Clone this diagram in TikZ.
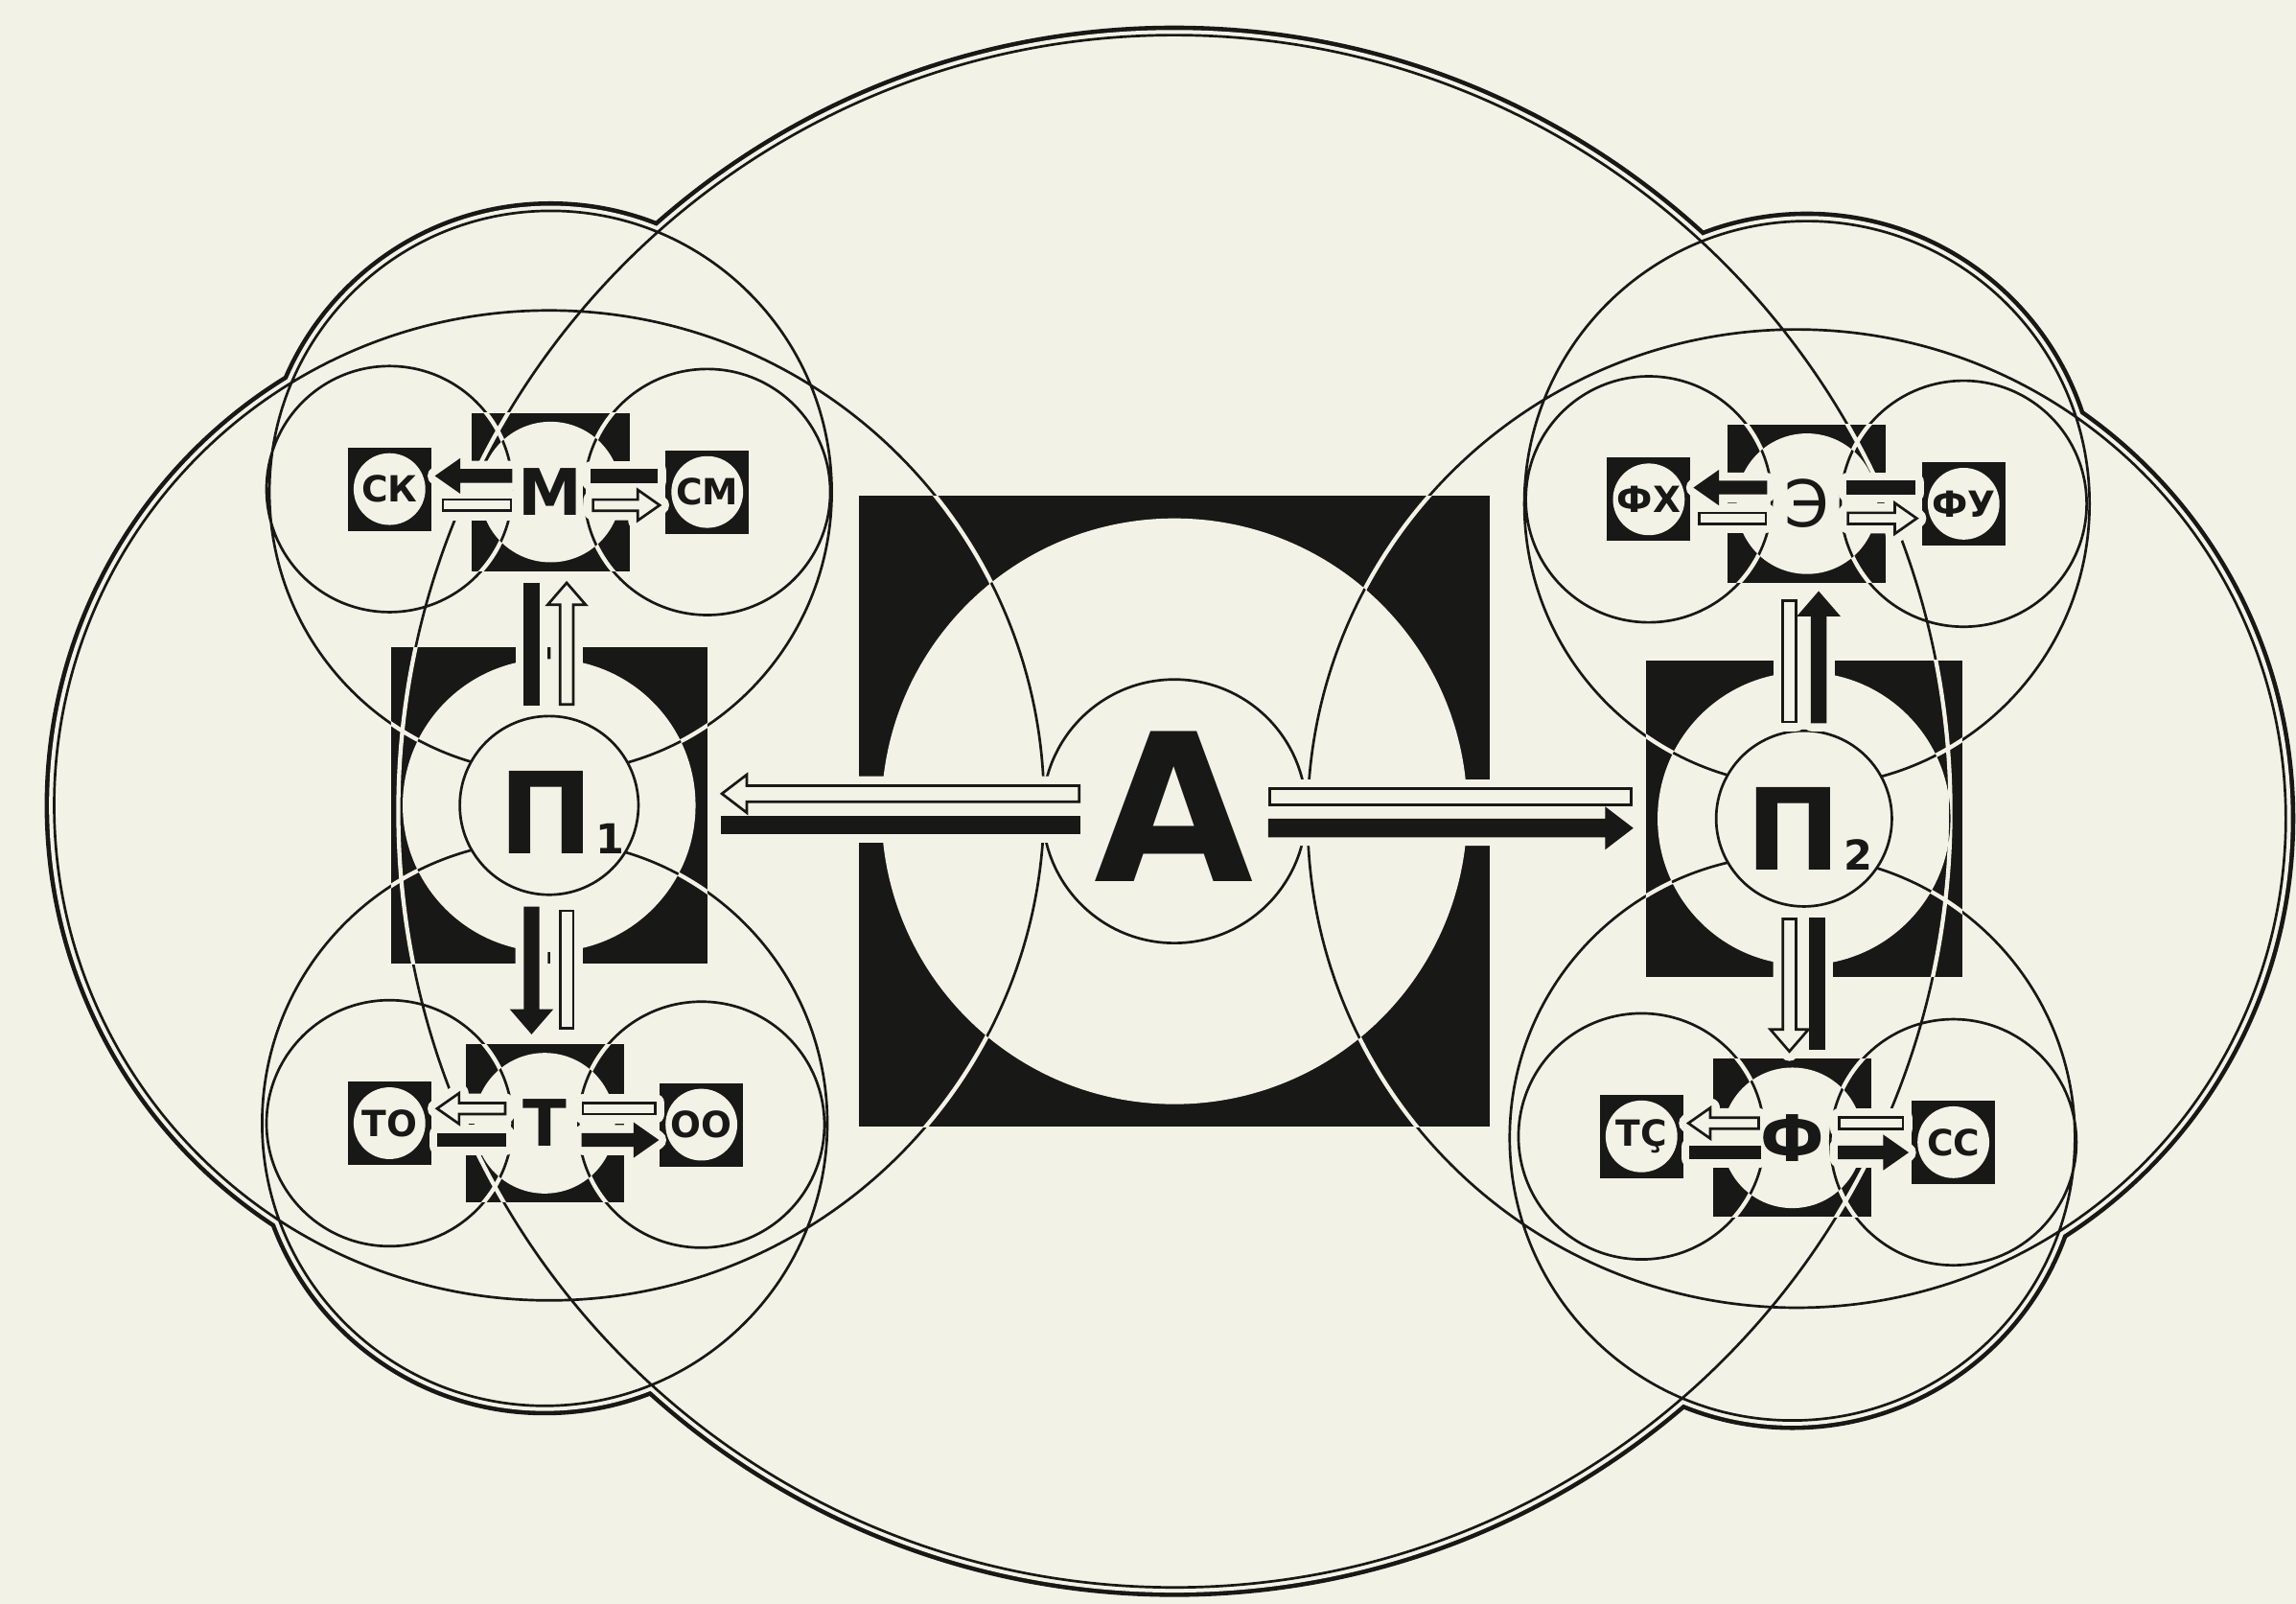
\documentclass[tikz,border=0pt]{standalone}
\usepackage{fontspec}
\setmainfont{DejaVu Sans}
\usetikzlibrary{calc}

\definecolor{paper}{RGB}{243,242,230}
\definecolor{ink}{RGB}{24,24,22}

% spheres: centre/radius, and the small side spheres
\newcommand{\spherelist}{A/5.30, P1/3.38, P2c/3.34, M/1.92, T/1.93, E/1.93, F/1.93}
\newcommand{\sidelist}{SK, SM, TO, OO, FX, FU, TS, SS}

% black square with a light disc; orbits run white over black, black over light
\newcommand{\sphereunit}[3]{%
  \node[unitbox=#2] (#1box) at (#1) {};
  \begin{scope}
    \clip (#1box.south west) rectangle (#1box.north east);
    \draw[cutline] \foreach \ctr/\rad in \spherelist {(\ctr) circle[radius=\rad]}
      \foreach \ctr in \sidelist {(\ctr) circle[radius=0.84]};
  \end{scope}
  \fill[paper] (#1) circle[radius=#3];
  \begin{scope}
    \clip (#1) circle[radius=#3];
    \draw[orbit] \foreach \ctr/\rad in \spherelist {(\ctr) circle[radius=\rad]}
      \foreach \ctr in \sidelist {(\ctr) circle[radius=0.84]};
  \end{scope}}

% flows: bar without head, bar with head
\newcommand{\flowsize}[3]{\def\barhw{#1}\def\tiphw{#2}\def\tiplen{#3}}
\newcommand{\flowbar}[3]{%
  \coordinate (fs) at (#2);
  \coordinate (fe) at (#3);
  \filldraw[#1, flowpass] ($(fs)!\barhw!90:(fe)$) -- ($(fe)!\barhw!-90:(fs)$)
    -- ($(fe)!\barhw!90:(fs)$) -- ($(fs)!\barhw!-90:(fe)$) -- cycle;}
\newcommand{\flowarrow}[3]{%
  \coordinate (fs) at (#2);
  \coordinate (fe) at (#3);
  \coordinate (fh) at ($(fe)!\tiplen!(fs)$);
  \filldraw[#1, flowpass] ($(fs)!\barhw!90:(fe)$) -- ($(fh)!\barhw!90:(fe)$)
    -- ($(fh)!\tiphw!90:(fe)$) -- (fe) -- ($(fh)!\tiphw!-90:(fe)$)
    -- ($(fh)!\barhw!-90:(fe)$) -- ($(fs)!\barhw!-90:(fe)$) -- cycle;}

% all the flows of the scheme
\newcommand{\allflows}{%
  % A -- P1, A -- P2
  \flowsize{0.055cm}{0.13cm}{0.17cm}
  \flowarrow{whiteflow}{$(A)+(-0.65,0.12)$}{[xshift=1mm]P1box.east |- fs}
  \flowbar{blackflow}{$(A)+(-0.65,-0.095)$}{[xshift=1mm]P1box.east |- fs}
  \flowbar{whiteflow}{$(A)+(0.65,0.10)$}{[xshift=-1mm]P2box.west |- fs}
  \flowarrow{blackflow}{$(A)+(0.65,-0.115)$}{[xshift=-1mm]P2box.west |- fs}
  % P1 -- M, T and P2 -- E, F
  \flowsize{0.045cm}{0.13cm}{0.15cm}
  \flowbar{blackflow}{$(P1)+(-0.12,0.69)$}{[yshift=-0.9mm]Mbox.south -| fs}
  \flowarrow{whiteflow}{$(P1)+(0.12,0.69)$}{[yshift=-0.8mm]Mbox.south -| fs}
  \flowarrow{blackflow}{$(P1)+(-0.12,-0.70)$}{[yshift=0.8mm]Tbox.north -| fs}
  \flowbar{whiteflow}{$(P1)+(0.12,-0.72)$}{[yshift=1.1mm]Tbox.north -| fs}
  \flowbar{whiteflow}{$(P2)+(-0.10,0.66)$}{[yshift=-1.2mm]Ebox.south -| fs}
  \flowarrow{blackflow}{$(P2)+(0.10,0.66)$}{[yshift=-0.7mm]Ebox.south -| fs}
  \flowarrow{whiteflow}{$(P2)+(-0.10,-0.685)$}{[yshift=0.5mm]Fbox.north -| fs}
  \flowbar{blackflow}{$(P2)+(0.09,-0.685)$}{[yshift=0.7mm]Fbox.north -| fs}
  % side flows
  \flowsize{0.038cm}{0.105cm}{0.15cm}
  \flowarrow{blackflow}{$(M)+(-0.27,0.11)$}{[xshift=0.4mm]SKbox.east |- fs}
  \flowbar{whiteflow}{$(M)+(-0.27,-0.09)$}{[xshift=0.8mm]SKbox.east |- fs}
  \flowbar{blackflow}{$(M)+(0.28,0.11)$}{[xshift=-0.6mm]SMbox.west |- fs}
  \flowarrow{whiteflow}{$(M)+(0.29,-0.09)$}{[xshift=-0.4mm]SMbox.west |- fs}
  \flowarrow{whiteflow}{$(T)+(-0.27,0.10)$}{[xshift=0.4mm]TObox.east |- fs}
  \flowbar{blackflow}{$(T)+(-0.27,-0.115)$}{[xshift=0.5mm]TObox.east |- fs}
  \flowbar{whiteflow}{$(T)+(0.26,0.10)$}{[xshift=-0.3mm]OObox.west |- fs}
  \flowarrow{blackflow}{$(T)+(0.26,-0.115)$}{[xshift=-0.2mm]OObox.west |- fs}
  \flowarrow{blackflow}{$(E)+(-0.28,0.11)$}{[xshift=0.35mm]FXbox.east |- fs}
  \flowbar{whiteflow}{$(E)+(-0.28,-0.10)$}{[xshift=0.6mm]FXbox.east |- fs}
  \flowbar{blackflow}{$(E)+(0.28,0.11)$}{[xshift=-0.5mm]FUbox.west |- fs}
  \flowarrow{whiteflow}{$(E)+(0.28,-0.10)$}{[xshift=-0.35mm]FUbox.west |- fs}
  \flowarrow{whiteflow}{$(F)+(-0.23,0.10)$}{[xshift=0.35mm]TSbox.east |- fs}
  \flowbar{blackflow}{$(F)+(-0.22,-0.10)$}{[xshift=0.5mm]TSbox.east |- fs}
  \flowbar{whiteflow}{$(F)+(0.32,0.10)$}{[xshift=-0.6mm]SSbox.west |- fs}
  \flowarrow{blackflow}{$(F)+(0.32,-0.10)$}{[xshift=-0.35mm]SSbox.west |- fs}}

\begin{document}
\begin{tikzpicture}[
    orbit/.style={draw=ink, line width=0.5pt},
    cutline/.style={draw=paper, line width=0.8pt},
    unitbox/.style={rectangle, fill=ink, inner sep=0pt, outer sep=0pt, minimum size=#1},
    hub/.style={circle, draw=ink, line width=0.5pt, fill=paper, inner sep=0pt, minimum size=#1},
    halo/.style={draw=paper, fill=paper, line width=1.3mm, line join=round},
    whiteflow/.style={fill=paper, draw=ink, line width=0.5pt},
    blackflow/.style={fill=ink, draw=ink, line width=0.5pt},
    flowpass/.style={},
    biglabel/.style={text=ink, inner sep=0pt, font=\fontsize{40}{40}\selectfont\bfseries},
    plabel/.style={text=ink, inner sep=0pt, font=\fontsize{22}{22}\selectfont\bfseries},
    midlabel/.style={text=ink, inner sep=0pt, font=\fontsize{12.5}{12.5}\selectfont\bfseries},
    leaflabel/.style={text=ink, inner sep=0pt, font=\fontsize{7}{7}\selectfont\bfseries}]

  \useasboundingbox (0,0) rectangle (15.68,10.95);
  \fill[paper] (0,0) rectangle (15.68,10.95);

  \coordinate (A)   at (8.02,5.41);
  \coordinate (P1)  at (3.75,5.45);
  \coordinate (P2)  at (12.32,5.36);
  \coordinate (P2c) at (12.27,5.36);
  \coordinate (M)   at (3.76,7.59);
  \coordinate (SK)  at (2.66,7.61);
  \coordinate (SM)  at (4.83,7.59);
  \coordinate (T)   at (3.72,3.28);
  \coordinate (TO)  at (2.66,3.28);
  \coordinate (OO)  at (4.79,3.27);
  \coordinate (E)   at (12.34,7.51);
  \coordinate (FX)  at (11.26,7.54);
  \coordinate (FU)  at (13.41,7.51);
  \coordinate (F)   at (12.24,3.18);
  \coordinate (TS)  at (11.21,3.19);
  \coordinate (SS)  at (13.34,3.15);

  % outer double line of the cloud
  \fill[ink] \foreach \ctr/\rad in \spherelist {(\ctr) circle[radius=\rad+0.065]};
  \fill[paper] \foreach \ctr/\rad in \spherelist {(\ctr) circle[radius=\rad+0.035]};

  % orbits
  \draw[orbit] \foreach \ctr/\rad in \spherelist {(\ctr) circle[radius=\rad]}
    \foreach \ctr in \sidelist {(\ctr) circle[radius=0.84]};

  \sphereunit{A}{4.31cm}{2.0}
  \sphereunit{P1}{2.16cm}{1.0}
  \sphereunit{P2}{2.16cm}{1.0}
  \sphereunit{M}{1.08cm}{0.48}
  \sphereunit{T}{1.08cm}{0.48}
  \sphereunit{E}{1.08cm}{0.48}
  \sphereunit{F}{1.08cm}{0.48}
  \foreach \leaf in {SK, SM, TO, OO, FX, FU, TS, SS}
    {\sphereunit{\leaf}{0.57cm}{0.245}}

  \node[hub=1.80cm] (Ahub) at (A) {};
  \node[hub=1.22cm] (P1hub) at (P1) {};
  \node[hub=1.20cm] (P2hub) at (P2) {};
  \node[biglabel] (Alab) at ($(A)+(0,0.03)$) {А};
  \node[plabel] (P1lab) at ($(P1)+(-0.02,-0.05)$) {П\rlap{\hspace{0.5pt}\fontsize{8}{8}\selectfont 1}};
  \node[plabel] (P2lab) at ($(P2)+(-0.07,-0.07)$) {П\rlap{\hspace{0.5pt}\fontsize{8}{8}\selectfont 2}};

  % light gaps first, then the flows themselves
  \begin{scope}[flowpass/.style={halo}]
    \allflows
  \end{scope}
  \allflows

  \node[midlabel] (Mlab) at (M) {М};
  \node[midlabel] (Tlab) at (T) {Т};
  \node[midlabel, font=\fontsize{12.5}{12.5}\selectfont] (Elab) at (E) {Э};
  \node[midlabel] (Flab) at (F) {Ф};
  \node[leaflabel] (SKlab) at (SK) {СК};
  \node[leaflabel] (SMlab) at (SM) {СМ};
  \node[leaflabel] (TOlab) at (TO) {ТО};
  \node[leaflabel] (OOlab) at (OO) {ОО};
  \node[leaflabel] (FXlab) at (FX) {ФХ};
  \node[leaflabel] (FUlab) at (FU) {ФУ};
  \node[leaflabel] (TSlab) at (TS) {ТҪ};
  \node[leaflabel] (SSlab) at (SS) {СС};
\end{tikzpicture}
\end{document}
